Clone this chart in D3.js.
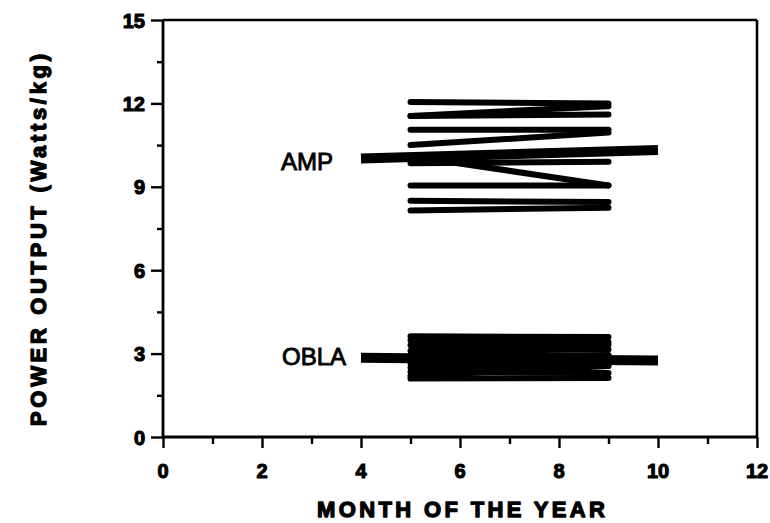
<!DOCTYPE html>
<html><head><meta charset="utf-8">
<script src="https://cdn.jsdelivr.net/npm/d3@7"></script>
<style>
html,body{margin:0;padding:0;background:#fff;}
svg{display:block;}
text{font-family:"Liberation Sans",Arial,Helvetica,sans-serif;fill:#000;}
</style></head>
<body>
<script>
// ---- data ----
const xTicks = [0, 2, 4, 6, 8, 10, 12];
const yTicks = [0, 3, 6, 9, 12, 15];
const subjMonths = [5, 9];
const meanMonths = [4, 10];
const ampStart = [12.05, 11.55, 11.55, 11.05, 10.5, 10.1, 9.85, 9.05, 8.5, 8.15];
const ampEnd   = [12.0, 11.9, 11.6, 11.05, 10.95, 9.05, 9.9, 9.05, 8.45, 8.25];
const ampMean  = [10.02, 10.32];
const oblaStart = [3.62, 3.48, 3.3, 3.1, 2.95, 2.8, 2.65, 2.5, 2.2, 2.35, 2.1];
const oblaEnd   = [3.6, 3.42, 3.32, 3.15, 2.9, 2.95, 2.75, 2.6, 2.55, 2.3, 2.12];
const oblaMean  = [2.85, 2.75];
const groupLabels = ["AMP", "OBLA"];
const xTitle = "MONTH OF THE YEAR";
const yTitle = "POWER OUTPUT (Watts/kg)";

const W = 770, H = 523;
const svg = d3.select("body").append("svg").attr("width", W).attr("height", H);
const x = d3.scaleLinear().domain([0, 12]).range([163, 757]);
const y = d3.scaleLinear().domain([0, 15]).range([437, 20]);

const line = d3.line().x(d => x(d[0])).y(d => y(d[1]));

// subject lines
function subjects(starts, ends) {
  starts.forEach((s, i) => {
    svg.append("path")
      .attr("d", line([[subjMonths[0], s], [subjMonths[1], ends[i]]]))
      .attr("fill", "none").attr("stroke", "#000")
      .attr("stroke-width", 6).attr("stroke-linecap", "round");
  });
}
subjects(ampStart, ampEnd);
subjects(oblaStart, oblaEnd);

// mean lines
[ampMean, oblaMean].forEach(m => {
  svg.append("path")
    .attr("d", line([[meanMonths[0], m[0]], [meanMonths[1], m[1]]]))
    .attr("fill", "none").attr("stroke", "#000")
    .attr("stroke-width", 10).attr("stroke-linecap", "butt");
});

// axes
const gx = svg.append("g").attr("transform", `translate(0,${y(0)})`);
gx.call(d3.axisBottom(x).tickValues(d3.range(0, 13, 1)).tickSize(7).tickFormat(""));
gx.call(g => g.selectAll(".tick line").filter(d => d % 2 === 0).attr("y2", 11));
const gy = svg.append("g").attr("transform", `translate(${x(0)},0)`);
gy.call(d3.axisLeft(y).tickValues(d3.range(0, 15.1, 1.5)).tickSize(6).tickFormat(""));
gy.call(g => g.selectAll(".tick line").filter(d => d % 3 === 0).attr("x2", -12));
svg.selectAll(".tick line").attr("stroke", "#000").attr("stroke-width", 2.4);
svg.selectAll(".domain").remove();
svg.append("line").attr("x1", x(0)).attr("x2", x(12)).attr("y1", y(0)).attr("y2", y(0))
  .attr("stroke", "#000").attr("stroke-width", 2.8);
svg.append("line").attr("x1", x(0)).attr("x2", x(0)).attr("y1", y(0)).attr("y2", y(15))
  .attr("stroke", "#000").attr("stroke-width", 2.8);
// frame top/right
svg.append("line").attr("x1", x(0)).attr("x2", x(12)).attr("y1", y(15)).attr("y2", y(15))
  .attr("stroke", "#000").attr("stroke-width", 2.6);
svg.append("line").attr("x1", x(12)).attr("x2", x(12)).attr("y1", y(15)).attr("y2", y(0))
  .attr("stroke", "#000").attr("stroke-width", 2.6);

// tick labels
svg.append("g").selectAll("text").data(xTicks).join("text")
  .attr("x", d => x(d)).attr("y", 478)
  .attr("text-anchor", "middle")
  .attr("font-size", 20).attr("font-weight", "bold")
  .attr("stroke", "#000").attr("stroke-width", 1.1).attr("stroke-linejoin", "round")
  .text(d => d);
svg.append("g").selectAll("text").data(yTicks).join("text")
  .attr("x", 145).attr("y", d => y(d) + 7.5)
  .attr("text-anchor", "end")
  .attr("font-size", 20).attr("font-weight", "bold")
  .attr("stroke", "#000").attr("stroke-width", 1.1).attr("stroke-linejoin", "round")
  .text(d => d);

// axis titles
svg.append("text").attr("x", 461).attr("y", 517)
  .attr("text-anchor", "middle").attr("font-size", 22).attr("font-weight", "bold")
  .attr("stroke", "#000").attr("stroke-width", 1.3).attr("stroke-linejoin", "round")
  .attr("textLength", 288).attr("lengthAdjust", "spacing")
  .text(xTitle);
svg.append("text").attr("transform", "translate(46,240) rotate(-90)")
  .attr("text-anchor", "middle").attr("font-size", 22).attr("font-weight", "bold")
  .attr("stroke", "#000").attr("stroke-width", 1.3).attr("stroke-linejoin", "round")
  .attr("textLength", 372).attr("lengthAdjust", "spacing")
  .text(yTitle);

// group labels
svg.append("text").attr("x", 333).attr("y", 170).attr("text-anchor", "end")
  .attr("font-size", 24).attr("stroke", "#000").attr("stroke-width", 0.9)
  .text(groupLabels[0]);
svg.append("text").attr("x", 282).attr("y", 365).attr("text-anchor", "start")
  .attr("font-size", 24).attr("stroke", "#000").attr("stroke-width", 0.9)
  .text(groupLabels[1]);
</script>
</body></html>
